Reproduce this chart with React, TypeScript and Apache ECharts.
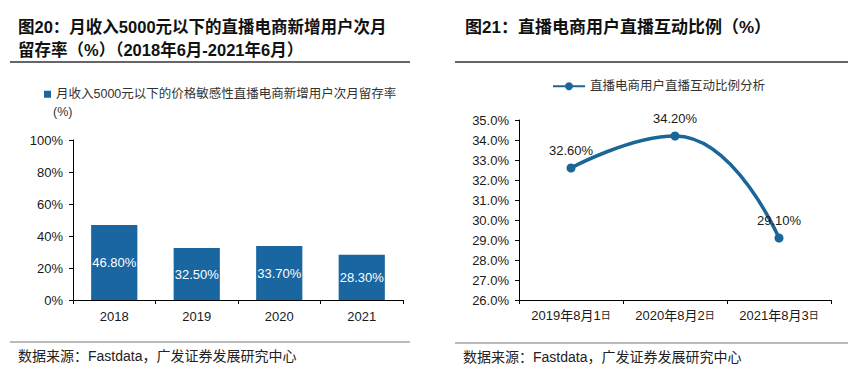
import React, { useEffect, useRef } from "react";
import * as echarts from "echarts";

const barCategories = ["2018", "2019", "2020", "2021"];
const barValues = [46.8, 32.5, 33.7, 28.3];
const barSeriesName = "月收入5000元以下的价格敏感性直播电商新增用户次月留存率";

const lineCategories = ["2019年8月1日", "2020年8月2日", "2021年8月3日"];
const lineValues = [32.6, 34.2, 29.1];
const lineSeriesName = "直播电商用户直播互动比例分析";

const leftTitle1 = "图20：月收入5000元以下的直播电商新增用户次月";
const leftTitle2 = "留存率（%）（2018年6月-2021年6月）";
const rightTitle = "图21：直播电商用户直播互动比例（%）";
const sourceText = "数据来源：Fastdata，广发证券发展研究中心";

const FONT = '"Liberation Sans", Arial, "Noto Sans CJK SC", sans-serif';
const BAR_COLOR = "#1966A0";
const LINE_COLOR = "#1B6698";
const TXT = "#1a1a1a";

export default function App() {
  const ref = useRef<HTMLDivElement>(null);
  useEffect(() => {
    document.body.style.margin = "0";
    const chart = echarts.init(ref.current!, null, { renderer: "svg" });
    const axisLine = { show: true, lineStyle: { color: "#000", width: 1 } };
    const axisTick = { show: true, length: 4, lineStyle: { color: "#000" } };
    const option: any = {
      animation: false,
      backgroundColor: "#fff",
      textStyle: { fontFamily: FONT },
      legend: [
        {
          data: [barSeriesName],
          left: 44,
          top: 88,
          padding: 0,
          icon: "rect",
          itemWidth: 7,
          itemHeight: 7,
          textStyle: { fontSize: 12.5, color: "#333", fontFamily: FONT },
        },
        {
          data: [lineSeriesName],
          left: 552,
          top: 80,
          padding: 0,
          itemWidth: 32,
          itemHeight: 10,
          textStyle: { fontSize: 12.5, color: "#333", fontFamily: FONT },
        },
      ],
      grid: [
        { left: 73, top: 140, width: 330, height: 160 },
        { left: 519, top: 120, width: 312, height: 180 },
      ],
      xAxis: [
        {
          type: "category",
          gridIndex: 0,
          data: barCategories,
          boundaryGap: true,
          axisLine,
          axisTick,
          axisLabel: { color: TXT, fontSize: 13, margin: 10, fontFamily: FONT, interval: 0 },
        },
        {
          type: "category",
          gridIndex: 1,
          data: lineCategories,
          boundaryGap: true,
          axisLine,
          axisTick,
          axisLabel: {
            color: TXT,
            fontSize: 13,
            margin: 9,
            interval: 0,
            fontFamily: FONT,
            formatter: (v: string) => v.replace("日", "{s|日}"),
            rich: { s: { fontSize: 10, color: TXT, fontFamily: FONT } },
          },
        },
      ],
      yAxis: [
        {
          type: "value",
          gridIndex: 0,
          min: 0,
          max: 100,
          interval: 20,
          axisLine,
          axisTick,
          splitLine: { show: false },
          axisLabel: { color: TXT, fontSize: 13, margin: 10, fontFamily: FONT, formatter: "{value}%" },
        },
        {
          type: "value",
          gridIndex: 1,
          min: 26,
          max: 35,
          interval: 1,
          axisLine,
          axisTick,
          splitLine: { show: false },
          axisLabel: {
            color: TXT,
            fontSize: 13,
            margin: 10,
            fontFamily: FONT,
            formatter: (v: number) => v.toFixed(1) + "%",
          },
        },
      ],
      series: [
        {
          name: barSeriesName,
          type: "bar",
          xAxisIndex: 0,
          yAxisIndex: 0,
          data: barValues,
          barWidth: "56%",
          itemStyle: { color: BAR_COLOR },
          label: {
            show: true,
            position: "inside",
            color: "#fff",
            fontSize: 13,
            fontFamily: FONT,
            formatter: (p: any) => p.value.toFixed(2) + "%",
          },
        },
        {
          name: lineSeriesName,
          type: "line",
          xAxisIndex: 1,
          yAxisIndex: 1,
          data: lineValues,
          smooth: true,
          symbol: "circle",
          symbolSize: 9,
          lineStyle: { color: LINE_COLOR, width: 3.5 },
          itemStyle: { color: LINE_COLOR },
          label: {
            show: true,
            position: "top",
            distance: 7,
            color: TXT,
            fontSize: 13,
            fontFamily: FONT,
            formatter: (p: any) => p.value.toFixed(2) + "%",
          },
        },
      ],
      graphic: [
        { type: "text", x: 18, y: 27, style: { text: leftTitle1, font: `bold 16.5px ${FONT}`, fill: "#111", verticalAlign: "middle" } },
        { type: "text", x: 18, y: 50, style: { text: leftTitle2, font: `bold 16.5px ${FONT}`, fill: "#111", verticalAlign: "middle" } },
        { type: "text", x: 465, y: 27, style: { text: rightTitle, font: `bold 17px ${FONT}`, fill: "#111", verticalAlign: "middle" } },
        { type: "line", shape: { x1: 10, y1: 62, x2: 410, y2: 62 }, style: { stroke: "#666", lineWidth: 2 } },
        { type: "line", shape: { x1: 455, y1: 62, x2: 848, y2: 62 }, style: { stroke: "#666", lineWidth: 2 } },
        { type: "line", shape: { x1: 10, y1: 342, x2: 410, y2: 342 }, style: { stroke: "#777", lineWidth: 1 } },
        { type: "line", shape: { x1: 455, y1: 343, x2: 848, y2: 343 }, style: { stroke: "#777", lineWidth: 1 } },
        { type: "text", x: 53, y: 112, style: { text: "(%)", font: `12.5px ${FONT}`, fill: "#333", verticalAlign: "middle" } },
        { type: "text", x: 18, y: 356, style: { text: sourceText, font: `14px ${FONT}`, fill: "#222", verticalAlign: "middle" } },
        { type: "text", x: 463, y: 357, style: { text: sourceText, font: `14px ${FONT}`, fill: "#222", verticalAlign: "middle" } },
      ],
    };
    chart.setOption(option);
    return () => chart.dispose();
  }, []);
  return <div ref={ref} style={{ position: "absolute", left: 0, top: 0, width: 848, height: 373 }} />;
}
